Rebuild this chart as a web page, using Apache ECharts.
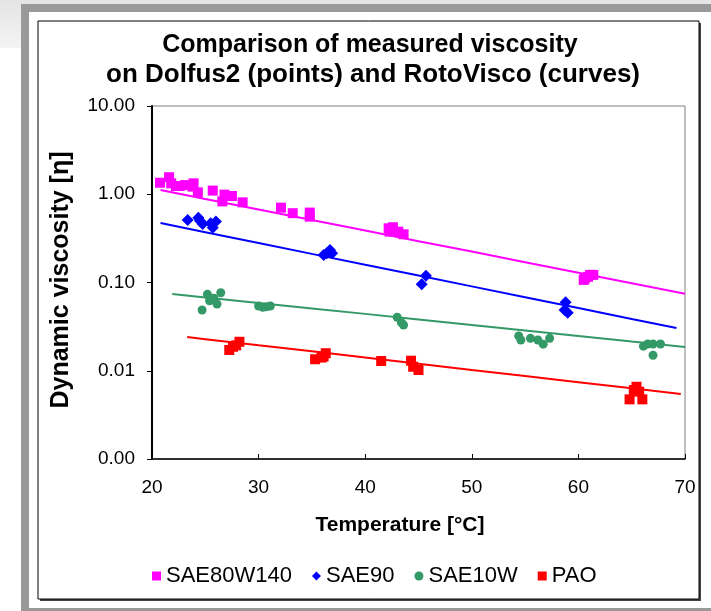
<!DOCTYPE html>
<html>
<head>
<meta charset="utf-8">
<title>Viscosity comparison</title>
<script src="https://cdn.jsdelivr.net/npm/echarts@6.0.0/dist/echarts.min.js"></script>
<style>
  html, body { margin: 0; padding: 0; background: #fff; }
  #chart { width: 711px; height: 611px; }
</style>
</head>
<body>
<div id="chart"></div>
<script>
// measured points (Dolfus2): [temperature, viscosity]
const sae80w140Pts = [
  [20.75, 1.35], [21.6, 1.56], [21.8, 1.33], [22.25, 1.24], [22.6, 1.24], [23.1, 1.27],
  [23.9, 1.33], [23.8, 1.22], [24.3, 1.05], [25.7, 1.10], [26.8, 0.99], [26.6, 0.83],
  [27.5, 0.955], [28.5, 0.81], [32.1, 0.705], [33.2, 0.61], [34.8, 0.62], [34.8, 0.557],
  [42.2, 0.411], [42.3, 0.377], [42.6, 0.423], [43.1, 0.377], [43.6, 0.352],
  [60.5, 0.107], [60.6, 0.111], [60.9, 0.116], [61.1, 0.122], [61.4, 0.122]
]
const sae90Pts = [
  [23.35, 0.51], [24.35, 0.542], [24.5, 0.502], [24.75, 0.46], [25.5, 0.469], [25.7, 0.418],
  [26.0, 0.49], [36.1, 0.205], [36.4, 0.214], [36.7, 0.233], [36.9, 0.214],
  [45.7, 0.119], [45.3, 0.0955], [58.8, 0.0596], [58.7, 0.0488], [59.0, 0.0455]
]
const sae10wPts = [
  [24.7, 0.0488], [25.2, 0.0734], [25.4, 0.0622], [25.8, 0.0663], [26.1, 0.057], [26.45, 0.0766],
  [30.0, 0.0542], [30.4, 0.0524], [30.75, 0.0532], [31.1, 0.0542],
  [43.0, 0.0404], [43.4, 0.0351], [43.6, 0.033],
  [54.4, 0.0248], [54.6, 0.0223], [55.5, 0.0233], [56.2, 0.0223], [56.7, 0.020], [57.3, 0.0233],
  [66.1, 0.019], [66.5, 0.0201], [67.0, 0.0201], [67.0, 0.015], [67.7, 0.0201]
]
const paoPts = [
  [27.25, 0.0172], [27.6, 0.0187], [27.9, 0.0194], [28.2, 0.0213],
  [35.3, 0.0135], [35.9, 0.0141], [36.1, 0.0145], [36.3, 0.0158],
  [41.5, 0.0129], [44.3, 0.013], [44.5, 0.0111], [45.0, 0.0102],
  [64.8, 0.00474], [65.2, 0.00605], [65.45, 0.00659], [65.7, 0.0058], [66.0, 0.00474]
]

// RotoVisco curves: [temperature, viscosity]
const sae80w140Curve = [
  [20.8, 1.12], [25, 0.885], [30, 0.672], [35, 0.511], [40, 0.388], [45, 0.294],
  [50, 0.224], [55, 0.170], [60, 0.129], [65, 0.098], [70, 0.0745]
]
const sae90Curve = [
  [20.8, 0.472], [25, 0.372], [30, 0.281], [35, 0.211], [40, 0.159], [45, 0.120],
  [50, 0.0904], [55, 0.068], [60, 0.0513], [65, 0.0386], [69.2, 0.0305]
]
const sae10wCurve = [
  [21.9, 0.0741], [25, 0.0678], [30, 0.0587], [35, 0.0508], [40, 0.0441], [45, 0.0381],
  [50, 0.033], [55, 0.0286], [60, 0.0248], [65, 0.0214], [70, 0.0186]
]
const paoCurve = [
  [23.3, 0.0241], [25, 0.0228], [30, 0.0194], [35, 0.0166], [40, 0.0141], [45, 0.012],
  [50, 0.0102], [55, 0.00871], [60, 0.00742], [65, 0.00632], [69.6, 0.00545]
]

const names = ['SAE80W140', 'SAE90', 'SAE10W', 'PAO']
const colors = ['#ff00ff', '#0000ff', '#339966', '#ff0000']
const symbols = ['rect', 'diamond', 'circle', 'rect']
const symbolSizes = [10, 12, 9, 10]

const font = 'Liberation Sans, Arial, sans-serif'
const pts = [sae80w140Pts, sae90Pts, sae10wPts, paoPts]
const curves = [sae80w140Curve, sae90Curve, sae10wCurve, paoCurve]

let series = []
curves.forEach((c, i) => {
  series.push({
    name: names[i] + ' curve',
    type: 'line',
    data: c,
    showSymbol: false,
    silent: true,
    lineStyle: { color: colors[i], width: 2 },
    z: 2
  })
})
pts.forEach((p, i) => {
  series.push({
    name: names[i],
    type: 'scatter',
    data: p,
    symbol: symbols[i],
    symbolSize: symbolSizes[i],
    itemStyle: { color: colors[i], opacity: 1 },
    z: 3
  })
})

const chart = echarts.init(document.getElementById('chart'))
chart.setOption({
  animation: false,
  backgroundColor: '#fff',
  textStyle: { fontFamily: font },
  graphic: [
    { type: 'rect', z: -20, shape: { x: 0, y: 0, width: 711, height: 48 },
      style: { fill: new echarts.graphic.LinearGradient(0, 0, 0, 1, [
        { offset: 0, color: '#e4e4e4' }, { offset: 1, color: '#f4f4f4' }]) } },
    { type: 'rect', z: -19, shape: { x: 21, y: 4, width: 690, height: 607 }, style: { fill: '#999' } },
    { type: 'rect', z: -18, shape: { x: 29, y: 12, width: 682, height: 596 }, style: { fill: '#fff' } },
    { type: 'rect', z: -17, shape: { x: 40, y: 23, width: 661, height: 578 }, style: { fill: '#444' } },
    { type: 'rect', z: -16, shape: { x: 38, y: 21, width: 661, height: 578 },
      style: { fill: '#fff', stroke: '#000', lineWidth: 1 } },
    { type: 'text', z: 100, x: 370, y: 45,
      style: { text: 'Comparison of measured viscosity', font: 'bold 25px ' + font,
        fill: '#000', textAlign: 'center', textVerticalAlign: 'middle' } },
    { type: 'text', z: 100, x: 373, y: 75,
      style: { text: 'on Dolfus2 (points) and RotoVisco (curves)', font: 'bold 26px ' + font,
        fill: '#000', textAlign: 'center', textVerticalAlign: 'middle' } },
    { type: 'text', z: 100, x: 61, y: 280, rotation: Math.PI / 2,
      style: { text: 'Dynamic viscosity [η]', font: 'bold 25px ' + font,
        fill: '#000', textAlign: 'center', textVerticalAlign: 'middle' } },
    { type: 'text', z: 100, x: 400, y: 525,
      style: { text: 'Temperature [°C]', font: 'bold 21px ' + font,
        fill: '#000', textAlign: 'center', textVerticalAlign: 'middle' } }
  ],
  legend: {
    data: names,
    left: 147,
    top: 560,
    itemWidth: 9,
    itemHeight: 9,
    itemGap: 20,
    textStyle: { fontSize: 22, color: '#000', fontFamily: font }
  },
  grid: {
    left: 152, top: 106, right: 26, bottom: 152,
    show: true, borderColor: '#808080', borderWidth: 1
  },
  xAxis: {
    type: 'value',
    min: 20, max: 70, interval: 10,
    axisLine: { lineStyle: { color: '#000', width: 1.5 } },
    axisTick: { inside: true, length: 5, lineStyle: { color: '#000' } },
    axisLabel: { fontSize: 19, color: '#000', margin: 19 },
    splitLine: { show: false }
  },
  yAxis: {
    type: 'log',
    logBase: 10,
    min: 0.001, max: 10,
    splitNumber: 4,
    axisLine: { lineStyle: { color: '#000', width: 2 } },
    axisTick: { length: 5, lineStyle: { color: '#000' } },
    axisLabel: { fontSize: 19, color: '#000', margin: 17, formatter: v => Number(v).toFixed(2) },
    splitLine: { show: false }
  },
  series: series
})
</script>
</body>
</html>
